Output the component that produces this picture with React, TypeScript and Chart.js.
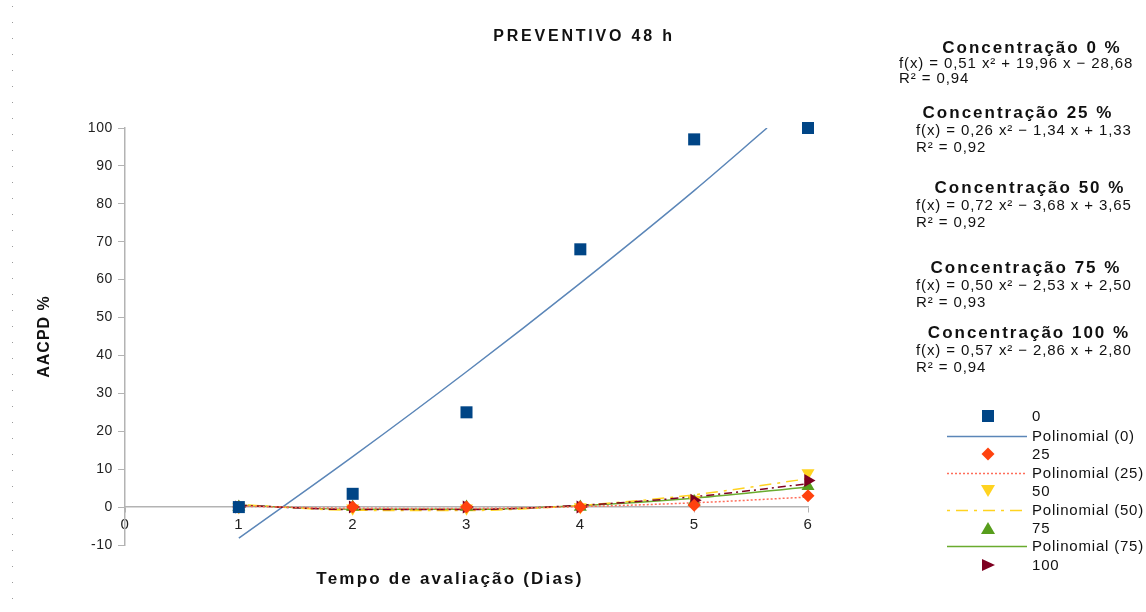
import React, { useEffect, useRef } from "react";
import { Chart, registerables } from "chart.js";

Chart.register(...registerables);

// ---- data ----
const days = [1, 2, 3, 4, 5, 6];
const conc0 = [0, 3.5, 25, 68, 97, 100];
const conc25 = [0, 0, 0, 0, 0.5, 3];
const conc50 = [0, -0.3, -0.3, 0, 2, 9];
const conc75 = [0, 0, 0, 0, 1.5, 5.5];
const conc100 = [0, 0, 0, 0, 1.8, 7];

// trend lines
const trendDays0 = [1, 2, 3, 4, 5, 5.64];
const trend0 = [-8.2, 13.3, 35.7, 59.1, 83.5, 100];
const trendDays = [1, 2, 3, 4, 5, 6];
const trend25 = [0.25, -0.31, -0.35, 0.13, 1.13, 2.65];
const trend50 = [0.69, -0.83, -0.91, 0.45, 3.25, 7.49];
const trend75 = [0.47, -0.56, -0.59, 0.38, 2.35, 5.32];
const trend100 = [0.51, -0.64, -0.65, 0.48, 2.75, 6.16];

const title = "PREVENTIVO 48 h";
const xTitle = "Tempo de avaliação (Dias)";
const yTitle = "AACPD %";
const eqHeads = ["Concentração 0 %", "Concentração 25 %", "Concentração 50 %", "Concentração 75 %", "Concentração 100 %"];
const eqFormulas = [
  "f(x) = 0,51 x² + 19,96 x − 28,68",
  "f(x) = 0,26 x² − 1,34 x + 1,33",
  "f(x) = 0,72 x² − 3,68 x + 3,65",
  "f(x) = 0,50 x² − 2,53 x + 2,50",
  "f(x) = 0,57 x² − 2,86 x + 2,80",
];
const eqR2 = ["R² = 0,94", "R² = 0,92", "R² = 0,92", "R² = 0,93", "R² = 0,94"];
const legendLabels = ["0", "Polinomial (0)", "25", "Polinomial (25)", "50", "Polinomial (50)", "75", "Polinomial (75)", "100"];

const C0 = "#004586";
const C25 = "#ff420e";
const C50 = "#ffd320";
const C75 = "#579d1c";
const C100 = "#7e0021";
const T0 = "#5b86b8";
const T25 = "#ff6d5a";
const T50 = "#ffd320";
const T75 = "#6aab2e";
const T100 = "#7e0021";

const FONT = "'Liberation Sans', Arial, sans-serif";

function pts(xs: number[], ys: number[]) {
  return xs.map((x, i) => ({ x, y: ys[i] }));
}

function drawMarker(ctx: CanvasRenderingContext2D, kind: string, x: number, y: number, color: string) {
  ctx.fillStyle = color;
  ctx.beginPath();
  if (kind === "square") {
    ctx.rect(x - 6, y - 6, 12, 12);
  } else if (kind === "diamond") {
    ctx.moveTo(x, y - 6.5); ctx.lineTo(x + 6.5, y); ctx.lineTo(x, y + 6.5); ctx.lineTo(x - 6.5, y);
  } else if (kind === "down") {
    ctx.moveTo(x - 7, y - 6); ctx.lineTo(x + 7, y - 6); ctx.lineTo(x, y + 6);
  } else if (kind === "up") {
    ctx.moveTo(x - 7, y + 6); ctx.lineTo(x + 7, y + 6); ctx.lineTo(x, y - 6);
  } else if (kind === "right") {
    ctx.moveTo(x - 6, y - 6); ctx.lineTo(x + 7, y); ctx.lineTo(x - 6, y + 6);
  }
  ctx.closePath();
  ctx.fill();
}

const spacingPlugin = {
  id: "tickSpacing",
  beforeDraw(chart: any) {
    (chart.ctx as any).letterSpacing = "0.6px";
  },
};

const textPlugin = {
  id: "customTexts",
  afterDraw(chart: any) {
    const ctx: CanvasRenderingContext2D = chart.ctx;
    const area = chart.chartArea;
    ctx.save();
    // dotted page edge
    ctx.strokeStyle = "#9a9a9a";
    ctx.lineWidth = 1;
    ctx.setLineDash([1, 15]);
    ctx.beginPath();
    ctx.moveTo(12.5, 6);
    ctx.lineTo(12.5, 612);
    ctx.stroke();
    ctx.setLineDash([]);

    ctx.fillStyle = "#111";
    ctx.textBaseline = "middle";
    // title
    ctx.font = `bold 16px ${FONT}`;
    (ctx as any).letterSpacing = "2.8px";
    ctx.textAlign = "center";
    ctx.fillText(title, 584, 37);
    // x title
    ctx.font = `bold 17px ${FONT}`;
    (ctx as any).letterSpacing = "2.2px";
    ctx.fillText(xTitle, 450, 579);
    // y title
    ctx.save();
    ctx.translate(45, (area.top + area.bottom) / 2);
    ctx.rotate(-Math.PI / 2);
    ctx.font = `bold 16px ${FONT}`;
    (ctx as any).letterSpacing = "1px";
    ctx.fillText(yTitle, 0, 0);
    ctx.restore();

    // equations
    const headY = [48, 113, 188, 268, 333];
    const headX = [1032, 1018, 1030, 1026, 1029];
    const fx = [899, 916, 916, 916, 916];
    for (let i = 0; i < eqHeads.length; i++) {
      ctx.textAlign = "center";
      ctx.font = `bold 17px ${FONT}`;
      (ctx as any).letterSpacing = "2px";
      ctx.fillText(eqHeads[i], headX[i], headY[i]);
      ctx.textAlign = "left";
      ctx.font = `15px ${FONT}`;
      (ctx as any).letterSpacing = "0.9px";
      ctx.fillText(eqFormulas[i], fx[i], headY[i] + (i === 0 ? 16 : 18));
      ctx.fillText(eqR2[i], fx[i], headY[i] + (i === 0 ? 31 : 35));
    }

    // legend
    const ly = [416, 436, 454, 473, 491, 510, 528, 546, 565];
    const kinds = ["square", "line0", "diamond", "line25", "down", "line50", "up", "line75", "right"];
    ctx.font = `15px ${FONT}`;
    (ctx as any).letterSpacing = "0.8px";
    ctx.textAlign = "left";
    for (let i = 0; i < legendLabels.length; i++) {
      const y = ly[i];
      const k = kinds[i];
      if (k === "square") drawMarker(ctx, "square", 988, y, C0);
      else if (k === "diamond") drawMarker(ctx, "diamond", 988, y, C25);
      else if (k === "down") drawMarker(ctx, "down", 988, y, C50);
      else if (k === "up") drawMarker(ctx, "up", 988, y, C75);
      else if (k === "right") drawMarker(ctx, "right", 988, y, C100);
      else {
        ctx.save();
        ctx.lineWidth = 1.5;
        if (k === "line0") { ctx.strokeStyle = T0; ctx.setLineDash([]); }
        if (k === "line25") { ctx.strokeStyle = T25; ctx.setLineDash([2, 2]); }
        if (k === "line50") { ctx.strokeStyle = T50; ctx.setLineDash([3, 6, 12, 6]); }
        if (k === "line75") { ctx.strokeStyle = T75; ctx.setLineDash([]); }
        ctx.beginPath();
        ctx.moveTo(947, y + 0.5);
        ctx.lineTo(1027, y + 0.5);
        ctx.stroke();
        ctx.restore();
      }
      ctx.fillStyle = "#111";
      ctx.fillText(legendLabels[i], 1032, y + 1);
    }
    ctx.restore();
  },
};

export default function App() {
  const ref = useRef<HTMLCanvasElement | null>(null);
  useEffect(() => {
    if (!ref.current) return;
    const trendStyle = (color: string, dash: number[], order: number) => ({
      showLine: true,
      borderColor: color,
      backgroundColor: color,
      borderWidth: 1.5,
      borderDash: dash,
      pointRadius: 0,
      pointHoverRadius: 0,
      cubicInterpolationMode: "monotone" as const,
      order,
    });
    const pointStyle = (color: string, style: string, radius: number, rotation: number, order: number) => ({
      showLine: false,
      borderColor: color,
      backgroundColor: color,
      pointStyle: style,
      pointRadius: radius,
      pointRotation: rotation,
      pointBorderWidth: 0,
      order,
      clip: false as any,
    });
    const chart = new Chart(ref.current, {
      type: "scatter",
      data: {
        datasets: [
          { label: "Polinomial (0)", data: pts(trendDays0, trend0), ...trendStyle(T0, [], 10) },
          { label: "Polinomial (25)", data: pts(trendDays, trend25), ...trendStyle(T25, [2, 2], 6) },
          { label: "Polinomial (50)", data: pts(trendDays, trend50), ...trendStyle(T50, [3, 6, 12, 6], 12) },
          { label: "Polinomial (75)", data: pts(trendDays, trend75), ...trendStyle(T75, [], 13) },
          { label: "Polinomial (100)", data: pts(trendDays, trend100), ...trendStyle(T100, [8, 4, 2, 4], 9) },
          { label: "0", data: pts(days, conc0), ...pointStyle(C0, "rect", 8.5, 0, 1) },
          { label: "25", data: pts(days, conc25), ...pointStyle(C25, "rectRot", 6.5, 0, 2) },
          { label: "50", data: pts(days, conc50), ...pointStyle(C50, "triangle", 7.5, 180, 5) },
          { label: "75", data: pts(days, conc75), ...pointStyle(C75, "triangle", 7.5, 0, 4) },
          { label: "100", data: pts(days, conc100), ...pointStyle(C100, "triangle", 7.5, 90, 3) },
        ] as any,
      },
      options: {
        animation: false,
        responsive: false,
        events: [],
        layout: { padding: { top: 128, bottom: 67, left: 0, right: 338 } },
        plugins: { legend: { display: false }, title: { display: false }, tooltip: { enabled: false } },
        scales: {
          x: {
            type: "linear",
            position: { y: 0 } as any,
            min: 0,
            max: 6,
            ticks: { stepSize: 1, color: "#222", font: { family: FONT, size: 15 }, padding: 4 },
            grid: { drawOnChartArea: false, drawTicks: true, tickLength: 5, color: "#b3b3b3" },
            border: { display: true, color: "#b3b3b3", width: 1.5 },
          },
          y: {
            type: "linear",
            position: "left",
            min: -10,
            max: 100,
            afterFit: (s: any) => { s.width = 125; },
            ticks: { stepSize: 10, color: "#222", font: { family: FONT, size: 14 }, padding: 5 },
            grid: { drawOnChartArea: false, drawTicks: true, tickLength: 7, color: "#b3b3b3" },
            border: { display: true, color: "#b3b3b3", width: 1.5 },
          },
        },
      },
      plugins: [spacingPlugin, textPlugin],
    });
    return () => chart.destroy();
  }, []);
  return (
    <div style={{ position: "fixed", left: 0, top: 0, width: 1146, height: 612, background: "#fff" }}>
      <canvas ref={ref} width={1146} height={612} style={{ display: "block" }} />
    </div>
  );
}
